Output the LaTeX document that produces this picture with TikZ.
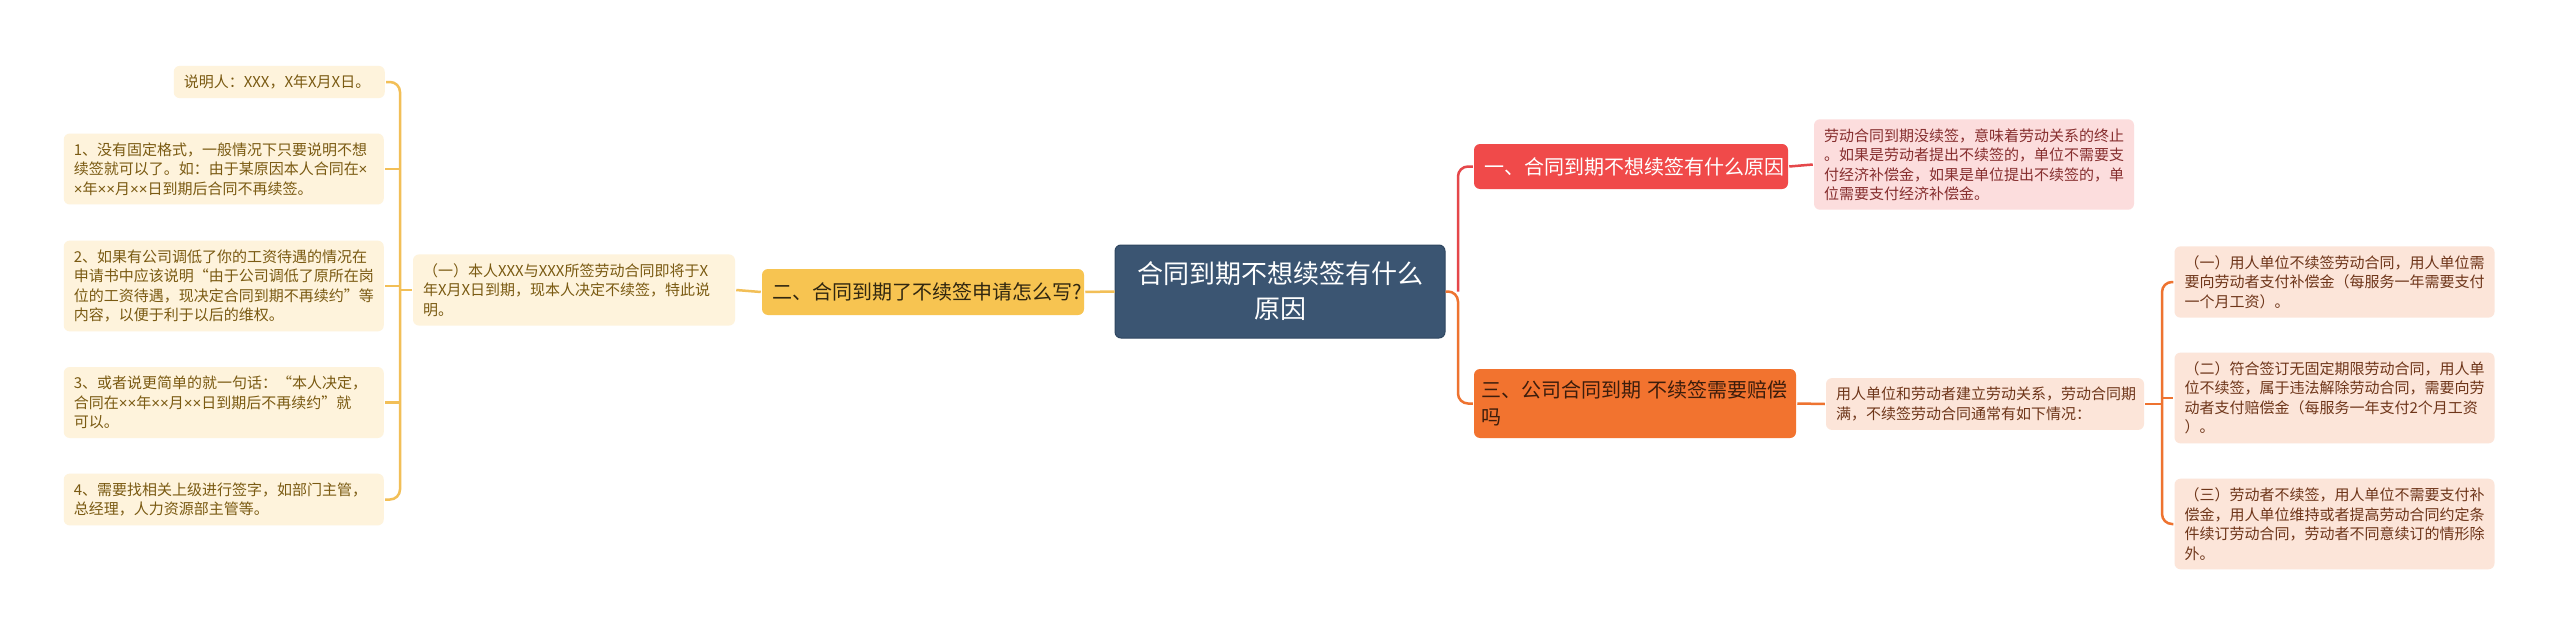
\documentclass[tikz,border=0pt]{standalone}
\usepackage{fontspec}
\setmainfont{Noto Sans CJK SC}
\newfontfamily\narrowfont{Liberation Sans}
\newcommand{\tms}{{\narrowfont ×}}
\usepackage{tikz}

\definecolor{hubfill}{HTML}{3B5572}
\definecolor{hubdraw}{HTML}{2E4660}
\definecolor{redfill}{HTML}{F04A4A}
\definecolor{redleaf}{HTML}{FCDDDD}
\definecolor{redtext}{HTML}{862E2E}
\definecolor{redline}{HTML}{E5474A}
\definecolor{yelfill}{HTML}{F7C451}
\definecolor{yelleaf}{HTML}{FEF3DC}
\definecolor{yeltext}{HTML}{7A5A12}
\definecolor{yelline}{HTML}{F2BF57}
\definecolor{orgfill}{HTML}{F2732F}
\definecolor{orgleaf}{HTML}{FCE5D9}
\definecolor{orgtext}{HTML}{6E3519}
\definecolor{orgline}{HTML}{EE7330}

\begin{document}
\begin{tikzpicture}[x=1pt, y=-1pt, line width=2.5pt,
  box/.style={rounded corners=6pt, inner xsep=10pt, inner ysep=9pt, align=left},
  leaf/.style={box, text width=300pt, font=\fontsize{15}{19.5}\selectfont},
  topic/.style={box, text width=302pt, font=\fontsize{20}{27}\selectfont},
  yleaf/.style={leaf, fill=yelleaf, text=yeltext},
  rleaf/.style={leaf, fill=redleaf, text=redtext},
  oleaf/.style={leaf, fill=orgleaf, text=orgtext},
  yl/.style={draw=yelline},
  rl/.style={draw=redline},
  ol/.style={draw=orgline}]
\fill[white] (0,0) rectangle (2560,637);
\useasboundingbox (0,0) rectangle (2560,637);

% centre
\node[box, fill=hubfill, draw=hubdraw, line width=1pt, text=white, align=center,
  text width=310pt, minimum height=93pt, font=\fontsize{26}{35}\selectfont]
  (C) at (1280,291.5) {合同到期不想续签有什么\\原因};

% left branch
\node[topic, fill=yelfill, text=black!80!yelfill, minimum height=46pt] (Y) at (923,292)
  {二、合同到期了不续签申请怎么写?};
\node[yleaf, text width=302pt] (Y1) at (574,290)
  {（一）本人XXX与XXX所签劳动合同即将于X\\年X月X日到期，现本人决定不续签，特此说\\明。};
\node[yleaf, text width=191pt, anchor=east] (L0) at (386,82) {说明人：XXX，X年X月X日。};
\node[yleaf, anchor=east] (L1) at (385,169)
  {1、没有固定格式，一般情况下只要说明不想\\续签就可以了。如：由于某原因本人合同在\tms\\\tms 年\tms\tms 月\tms\tms 日到期后合同不再续签。};
\node[yleaf, anchor=east] (L2) at (385,286)
  {2、如果有公司调低了你的工资待遇的情况在\\申请书中应该说明“由于公司调低了原所在岗\\位的工资待遇，现决定合同到期不再续约”等\\内容，以便于利于以后的维权。};
\node[yleaf, anchor=east] (L3) at (385,402.5)
  {3、或者说更简单的就一句话：“本人决定，\\合同在\tms\tms 年\tms\tms 月\tms\tms 日到期后不再续约”就\\可以。};
\node[yleaf, anchor=east] (L4) at (385,499.5)
  {4、需要找相关上级进行签字，如部门主管，\\总经理，人力资源部主管等。};

% right branches
\node[topic, text width=294pt, fill=redfill, text=white, minimum height=45pt] (R) at (1631,166.5)
  {一、合同到期不想续签有什么原因};
\node[rleaf] (R1) at (1974,164.5)
  {劳动合同到期没续签，意味着劳动关系的终止\\。如果是劳动者提出不续签的，单位不需要支\\付经济补偿金，如果是单位提出不续签的，单\\位需要支付经济补偿金。};
\node[topic, fill=orgfill, text=black!75!orgfill, minimum height=69pt,
  text width=308pt, inner xsep=7pt] (O) at (1635,403.5)
  {三、公司合同到期~不续签需要赔偿\\吗};
\node[oleaf, text width=298pt] (O1) at (1985,404)
  {用人单位和劳动者建立劳动关系，劳动合同期\\满，不续签劳动合同通常有如下情况：};
\node[oleaf] (O2a) at (2334.5,282)
  {（一）用人单位不续签劳动合同，用人单位需\\要向劳动者支付补偿金（每服务一年需要支付\\一个月工资）。};
\node[oleaf] (O2b) at (2334.5,398)
  {（二）符合签订无固定期限劳动合同，用人单\\位不续签，属于违法解除劳动合同，需要向劳\\动者支付赔偿金（每服务一年支付2个月工资\\）。};
\node[oleaf] (O2c) at (2334.5,524)
  {（三）劳动者不续签，用人单位不需要支付补\\偿金，用人单位维持或者提高劳动合同约定条\\件续订劳动合同，劳动者不同意续订的情形除\\外。};

% connectors
\coordinate (LB) at (400,290);
\coordinate (RB) at (1458,291.5);
\coordinate (OB) at (2162,404);
\draw[yl] (C.west) -- (Y.east);
\draw[yl] (Y.west) -- (Y1.east);
\draw[yl] (Y1.west) -- (LB);
\draw[yl, rounded corners=10pt] (L0.east) -| (LB) |- (L4.east);
\foreach \n in {L1,L2,L3}
  \draw[yl] (\n.east) -- (\n.east -| LB);
\draw[rl, rounded corners=10pt] (RB) |- (R.west);
\draw[ol, rounded corners=10pt] (C.east) -- (RB) |- (O.west);
\draw[rl] (R.east) -- (R1.west);
\draw[ol] (O.east) -- (O1.west);
\draw[ol] (O1.east) -- (OB);
\draw[ol, rounded corners=10pt] (O2a.west) -| (OB) |- (O2c.west);
\draw[ol] (O2b.west -| OB) -- (O2b.west);
\end{tikzpicture}
\end{document}
